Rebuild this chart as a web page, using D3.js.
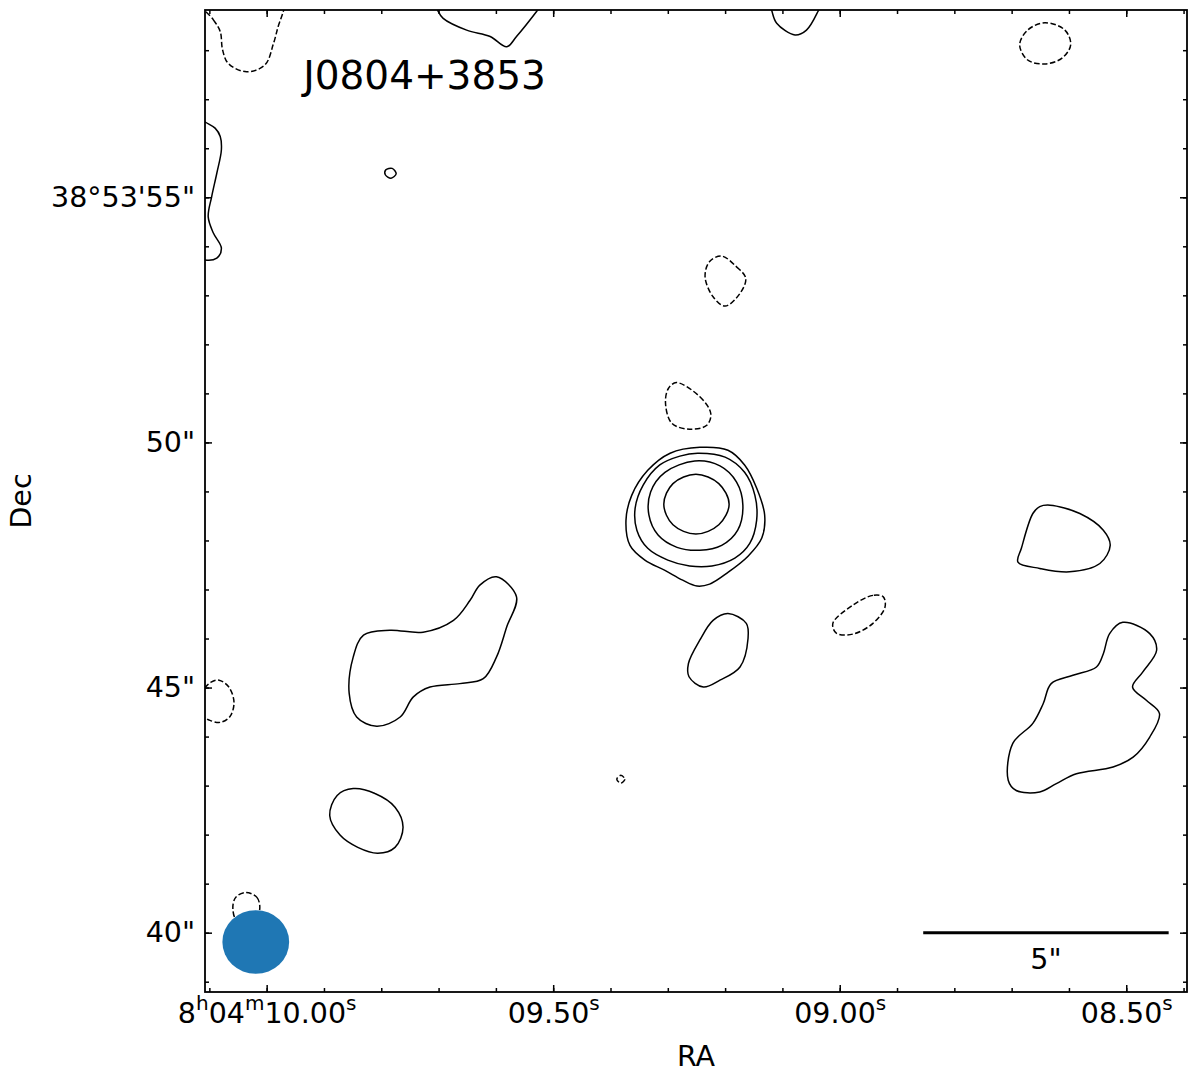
<!DOCTYPE html>
<html>
<head>
<meta charset="utf-8">
<script src="https://cdn.jsdelivr.net/npm/d3@7"></script>
<style>
  body { margin: 0; background: #fff; }
  text { font-family: "DejaVu Sans", sans-serif; fill: #000; }
</style>
</head>
<body>
<svg id="chart" width="1200" height="1074"></svg>
<script>
// sumbu: RA dalam detik (8h04m..), Dec dalam detik busur (38d53m..)
const raMajor = [10.0, 9.5, 9.0, 8.5];
const raLabels = ["8h04m10.00s", "09.50s", "09.00s", "08.50s"];
const decMajor = [40, 45, 50, 55];
const decLabels = ['40"', '45"', '50"', "38°53'55\""];
const raMinor = d3.range(84, 102).map(d => d / 10);
const decMinor = d3.range(39, 59);

// kontur positif (garis penuh), titik [RA s, Dec "]
const core1 = [[9.244,49.90],[9.195,49.84],[9.166,49.54],[9.145,49.07],[9.131,48.52],[9.136,48.05],[9.160,47.68],[9.195,47.35],[9.227,47.11],[9.249,47.07],[9.274,47.19],[9.305,47.39],[9.340,47.60],[9.366,47.90],[9.373,48.41],[9.363,48.92],[9.335,49.43],[9.296,49.78]];
const core2 = [[9.248,49.78],[9.200,49.70],[9.166,49.39],[9.148,48.92],[9.145,48.41],[9.157,47.94],[9.183,47.64],[9.223,47.48],[9.262,47.48],[9.300,47.60],[9.335,47.84],[9.354,48.21],[9.357,48.66],[9.343,49.13],[9.314,49.54],[9.279,49.72]];
const core3 = [[9.253,49.62],[9.209,49.52],[9.180,49.19],[9.169,48.72],[9.178,48.21],[9.206,47.90],[9.244,47.80],[9.284,47.86],[9.317,48.11],[9.333,48.52],[9.330,48.99],[9.305,49.39]];
const core4 = [[9.251,49.35],[9.211,49.16],[9.193,48.74],[9.211,48.32],[9.251,48.13],[9.291,48.32],[9.307,48.74],[9.291,49.16]];
const blobSouth = [[9.195,46.51],[9.163,46.31],[9.160,46.00],[9.174,45.42],[9.209,45.15],[9.238,45.01],[9.263,45.22],[9.264,45.49],[9.244,45.97],[9.221,46.37]];
const blobWest = [[9.599,47.26],[9.564,46.85],[9.581,46.24],[9.599,45.62],[9.622,45.18],[9.663,45.08],[9.715,45.01],[9.744,44.81],[9.767,44.40],[9.808,44.21],[9.843,44.40],[9.856,44.88],[9.849,45.62],[9.831,46.07],[9.785,46.17],[9.727,46.13],[9.674,46.37],[9.645,46.78],[9.628,47.09]];
const blobSW = [[9.849,42.94],[9.811,42.84],[9.776,42.56],[9.762,42.15],[9.776,41.74],[9.806,41.62],[9.841,41.74],[9.872,41.99],[9.890,42.39],[9.877,42.80]];
const blobNE = [[8.633,48.72],[8.581,48.55],[8.540,48.21],[8.528,47.90],[8.546,47.53],[8.599,47.36],[8.651,47.43],[8.689,47.56],[8.683,47.84],[8.663,48.55],[8.651,48.69]];
const blobE = [[8.506,46.33],[8.459,46.10],[8.447,45.76],[8.471,45.32],[8.489,45.01],[8.465,44.74],[8.442,44.47],[8.459,43.99],[8.488,43.58],[8.523,43.38],[8.587,43.24],[8.622,43.04],[8.651,42.87],[8.692,42.90],[8.706,43.11],[8.698,43.86],[8.663,44.27],[8.645,44.67],[8.631,45.08],[8.593,45.25],[8.552,45.42],[8.540,45.69],[8.529,46.10]];
const blobSpeck = [[9.792,55.56],[9.781,55.59],[9.774,55.48],[9.783,55.39],[9.793,55.46]];
const edgeTopMid = [[9.708,59.03],[9.702,58.82],[9.692,58.65],[9.651,58.41],[9.610,58.28],[9.581,58.07],[9.564,58.28],[9.529,58.79],[9.514,59.03],[9.610,59.33]];
const edgeTopRight = [[9.125,59.03],[9.119,58.82],[9.110,58.55],[9.078,58.31],[9.058,58.41],[9.038,58.79],[9.030,59.03],[9.078,59.33]];
const edgeLeft = [[10.125,56.68],[10.108,56.54],[10.090,56.41],[10.081,56.24],[10.079,55.97],[10.087,55.49],[10.096,55.01],[10.102,54.60],[10.093,54.27],[10.079,53.96],[10.087,53.76],[10.108,53.72],[10.125,53.82]];

// kontur negatif (garis putus-putus)
const negNorth = [[9.285,51.22],[9.244,50.93],[9.225,50.59],[9.232,50.35],[9.262,50.27],[9.293,50.39],[9.304,50.80],[9.299,51.10]];
const negEast = [[8.924,46.85],[8.942,46.88],[8.977,46.68],[9.012,46.31],[9.006,46.11],[8.977,46.09],[8.942,46.31],[8.921,46.64]];
const negSpeck = [[9.382,43.21],[9.375,43.13],[9.382,43.05],[9.389,43.13]];
const negUpper = [[9.206,53.80],[9.180,53.58],[9.164,53.35],[9.174,53.04],[9.200,52.78],[9.221,52.97],[9.235,53.38],[9.227,53.69]];
const negTopRight = [[8.642,58.56],[8.607,58.41],[8.597,58.11],[8.612,57.84],[8.642,57.72],[8.672,57.80],[8.686,58.11],[8.672,58.41]];
const negTopLeft = [[10.120,59.03],[10.093,58.62],[10.081,58.38],[10.077,58.01],[10.067,57.73],[10.035,57.56],[10.003,57.70],[9.988,58.14],[9.980,58.48],[9.971,58.79],[9.966,59.03],[10.047,59.23]];
const negLeft = [[10.125,44.64],[10.108,44.99],[10.097,45.11],[10.083,45.15],[10.066,45.01],[10.057,44.70],[10.064,44.41],[10.081,44.29],[10.099,44.33],[10.108,44.39]];
const negBeam = [[10.036,40.82],[10.017,40.72],[10.012,40.50],[10.020,40.25],[10.052,40.25],[10.059,40.50],[10.054,40.72]];

const posContours = [core1, core2, core3, core4, blobSouth, blobWest, blobSW, blobNE, blobE, blobSpeck, edgeTopMid, edgeTopRight, edgeLeft];
const negContours = [negNorth, negEast, negSpeck, negUpper, negTopRight, negTopLeft, negLeft, negBeam];

// beam dan skala
const beamRA = 10.019, beamDec = 39.81, beamMaj = 0.68, beamMin = 0.65;
const barRA = 8.426, barDec = 40, barLen = 5;
const decDeg = 38.898;

const margin = {left: 205, top: 10};
const W = 982, H = 982;
const fs = 28.5;

const svg = d3.select("#chart");
const g = svg.append("g").attr("transform", `translate(${margin.left},${margin.top})`);

const x = d3.scaleLinear().domain([10.1076, 8.394]).range([0, W]);
const y = d3.scaleLinear().domain([38.79, 58.82]).range([H, 0]);

g.append("clipPath").attr("id", "clip")
  .append("rect").attr("width", W).attr("height", H);

const line = d3.line()
  .x(d => x(d[0]))
  .y(d => y(d[1]))
  .curve(d3.curveCatmullRomClosed.alpha(0.5));

const plot = g.append("g").attr("clip-path", "url(#clip)");

plot.selectAll("path.pos")
  .data(posContours)
  .enter()
  .append("path")
  .attr("class", "pos")
  .attr("d", line)
  .attr("fill", "none")
  .attr("stroke", "#000")
  .attr("stroke-width", 1.5);

plot.selectAll("path.neg")
  .data(negContours)
  .enter()
  .append("path")
  .attr("class", "neg")
  .attr("d", line)
  .attr("fill", "none")
  .attr("stroke", "#000")
  .attr("stroke-width", 1.5)
  .attr("stroke-dasharray", "5.5,2.5");

// beam
const cosDec = Math.cos(decDeg * Math.PI / 180);
plot.append("ellipse")
  .attr("cx", x(beamRA))
  .attr("cy", y(beamDec))
  .attr("rx", Math.abs(x(beamRA) - x(beamRA - beamMaj / (15 * cosDec))))
  .attr("ry", Math.abs(y(beamDec) - y(beamDec + beamMin)))
  .attr("fill", "#1f77b4");

// skala 5"
const barLeftRA = barRA + barLen / (15 * cosDec);
g.append("line")
  .attr("x1", x(barLeftRA)).attr("x2", x(barRA))
  .attr("y1", y(barDec)).attr("y2", y(barDec))
  .attr("stroke", "#000").attr("stroke-width", 3);
g.append("text")
  .attr("x", (x(barLeftRA) + x(barRA)) / 2)
  .attr("y", y(barDec) + 36)
  .attr("text-anchor", "middle")
  .attr("font-size", fs)
  .text('5"');

// judul
g.append("text")
  .attr("x", W * 0.1)
  .attr("y", H * 0.08)
  .attr("font-size", 39)
  .text("J0804+3853");

// sumbu
function styleAxis(sel) {
  sel.select(".domain").remove();
  sel.selectAll("line").attr("stroke", "#000").attr("stroke-width", 1.5);
  sel.attr("font-family", null).attr("font-size", null);
}

g.append("g").attr("transform", `translate(0,${H})`)
  .call(d3.axisBottom(x).tickValues(raMinor).tickSize(-4).tickFormat(""))
  .call(styleAxis);
g.append("g")
  .call(d3.axisTop(x).tickValues(raMinor).tickSize(-4).tickFormat(""))
  .call(styleAxis);
g.append("g")
  .call(d3.axisLeft(y).tickValues(decMinor).tickSize(-4).tickFormat(""))
  .call(styleAxis);
g.append("g").attr("transform", `translate(${W},0)`)
  .call(d3.axisRight(y).tickValues(decMinor).tickSize(-4).tickFormat(""))
  .call(styleAxis);

g.append("g")
  .call(d3.axisTop(x).tickValues(raMajor).tickSize(-7).tickFormat(""))
  .call(styleAxis);
g.append("g").attr("transform", `translate(${W},0)`)
  .call(d3.axisRight(y).tickValues(decMajor).tickSize(-7).tickFormat(""))
  .call(styleAxis);

const xAxis = g.append("g").attr("transform", `translate(0,${H})`)
  .call(d3.axisBottom(x).tickValues(raMajor).tickSize(-7).tickPadding(9)
    .tickFormat((d, i) => raLabels[i]))
  .call(styleAxis);

// huruf h, m, s sebagai superskrip
xAxis.selectAll("text").each(function() {
  const t = d3.select(this);
  const parts = t.text().split(/([hms])/).filter(p => p !== "");
  t.text(null).attr("dy", null).attr("y", 31).attr("font-size", fs);
  let up = false;
  parts.forEach(p => {
    const sup = /^[hms]$/.test(p);
    const ts = t.append("tspan").text(p);
    if (sup) { ts.attr("font-size", 20).attr("dy", -13); up = true; }
    else if (up) { ts.attr("dy", 13); up = false; }
  });
});

g.append("g")
  .call(d3.axisLeft(y).tickValues(decMajor).tickSize(-7).tickPadding(10)
    .tickFormat((d, i) => decLabels[i]))
  .call(styleAxis)
  .selectAll("text").attr("font-size", fs);

// bingkai
g.append("rect")
  .attr("width", W).attr("height", H)
  .attr("fill", "none").attr("stroke", "#000").attr("stroke-width", 1.8);

// label sumbu
svg.append("text")
  .attr("x", margin.left + W / 2)
  .attr("y", 1066)
  .attr("text-anchor", "middle")
  .attr("font-size", fs)
  .text("RA");
svg.append("text")
  .attr("transform", `translate(31,${margin.top + H / 2}) rotate(-90)`)
  .attr("text-anchor", "middle")
  .attr("font-size", fs)
  .text("Dec");
</script>
</body>
</html>
